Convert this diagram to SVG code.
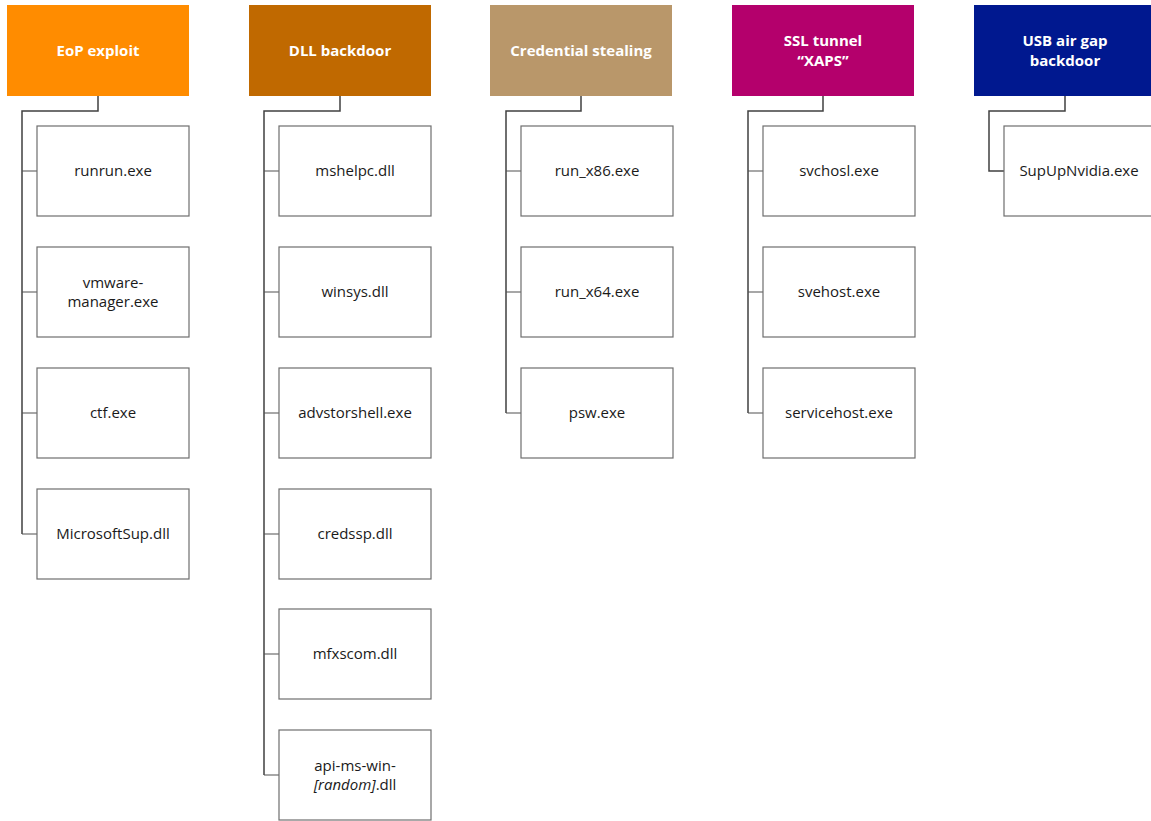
<svg xmlns="http://www.w3.org/2000/svg" width="1151" height="821" viewBox="0 0 1151 821">
<style>
.hdr text{font-family:"Open Sans","Noto Sans",sans-serif;font-weight:bold;font-size:15px;fill:#fff;text-anchor:middle}
.nd rect{fill:#fff;stroke:#6e6e6e;stroke-width:1.2}
.nd text{font-family:"Open Sans","Noto Sans",sans-serif;font-size:15px;fill:#1a1a1a;text-anchor:middle}
.con path{fill:none;stroke:#404040;stroke-width:1.5}
.con path.t{stroke-width:1.2;stroke:#505050}
</style>
<rect width="1151" height="821" fill="#fff"/>
<g class="con">
<path d="M98 96V111H22V534"/>
<path class="t" d="M22 171H37M22 292H37M22 413H37M22 534H37"/>
<path d="M340 96V111H264V775"/>
<path class="t" d="M264 171H279M264 292H279M264 413H279M264 534H279M264 654H279M264 775H279"/>
<path d="M581 96V111H506V413"/>
<path class="t" d="M506 171H521M506 292H521M506 413H521"/>
<path d="M823 96V111H748V413"/>
<path class="t" d="M748 171H763M748 292H763M748 413H763"/>
<path d="M1065 96V111H989V171H1004"/>
</g>
<g id="h-eop" class="hdr"><rect x="7" y="5" width="182" height="91" fill="#FF8C00"/><text x="98" y="56">EoP exploit</text></g>
<g id="h-dll" class="hdr"><rect x="249" y="5" width="182" height="91" fill="#C06900"/><text x="340" y="56">DLL backdoor</text></g>
<g id="h-cred" class="hdr"><rect x="490" y="5" width="182" height="91" fill="#B9976A"/><text x="581" y="56">Credential stealing</text></g>
<g id="h-ssl" class="hdr"><rect x="732" y="5" width="182" height="91" fill="#B4006C"/><text x="823" y="45.5">SSL tunnel</text><text x="823" y="66">“XAPS”</text></g>
<g id="h-usb" class="hdr"><rect x="974" y="5" width="182" height="91" fill="#00188F"/><text x="1065" y="45.5">USB air gap</text><text x="1065" y="66">backdoor</text></g>

<g id="n-runrun" class="nd"><rect x="37" y="126" width="152" height="90"/><text x="113" y="176">runrun.exe</text></g>
<g id="n-vmware" class="nd"><rect x="37" y="247" width="152" height="90"/><text x="113" y="288">vmware-</text><text x="113" y="307">manager.exe</text></g>
<g id="n-ctf" class="nd"><rect x="37" y="368" width="152" height="90"/><text x="113" y="418">ctf.exe</text></g>
<g id="n-msup" class="nd"><rect x="37" y="489" width="152" height="90"/><text x="113" y="539">MicrosoftSup.dll</text></g>

<g id="n-mshelpc" class="nd"><rect x="279" y="126" width="152" height="90"/><text x="355" y="176">mshelpc.dll</text></g>
<g id="n-winsys" class="nd"><rect x="279" y="247" width="152" height="90"/><text x="355" y="297">winsys.dll</text></g>
<g id="n-advstor" class="nd"><rect x="279" y="368" width="152" height="90"/><text x="355" y="418">advstorshell.exe</text></g>
<g id="n-credssp" class="nd"><rect x="279" y="489" width="152" height="90"/><text x="355" y="539">credssp.dll</text></g>
<g id="n-mfxscom" class="nd"><rect x="279" y="609" width="152" height="90"/><text x="355" y="659">mfxscom.dll</text></g>
<g id="n-apims" class="nd"><rect x="279" y="730" width="152" height="90"/><text x="355" y="771">api-ms-win-</text><text x="355" y="790"><tspan font-style="italic">[random]</tspan>.dll</text></g>

<g id="n-x86" class="nd"><rect x="521" y="126" width="152" height="90"/><text x="597" y="176">run_x86.exe</text></g>
<g id="n-x64" class="nd"><rect x="521" y="247" width="152" height="90"/><text x="597" y="297">run_x64.exe</text></g>
<g id="n-psw" class="nd"><rect x="521" y="368" width="152" height="90"/><text x="597" y="418">psw.exe</text></g>

<g id="n-svchosl" class="nd"><rect x="763" y="126" width="152" height="90"/><text x="839" y="176">svchosl.exe</text></g>
<g id="n-svehost" class="nd"><rect x="763" y="247" width="152" height="90"/><text x="839" y="297">svehost.exe</text></g>
<g id="n-servicehost" class="nd"><rect x="763" y="368" width="152" height="90"/><text x="839" y="418">servicehost.exe</text></g>

<g id="n-supup" class="nd"><rect x="1004" y="126" width="152" height="90"/><text x="1079" y="176">SupUpNvidia.exe</text></g>
</svg>
